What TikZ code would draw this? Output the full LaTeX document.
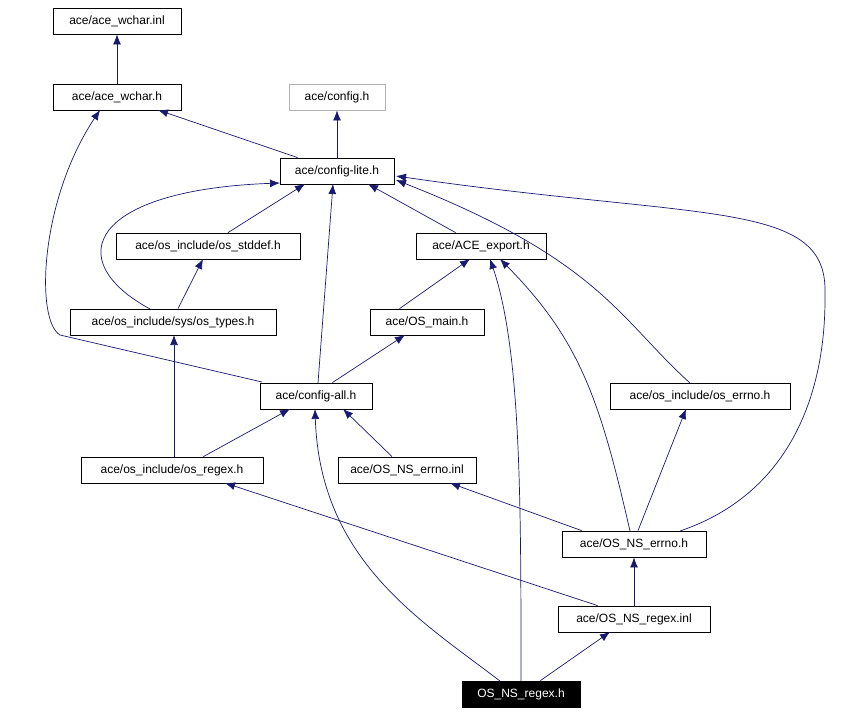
\documentclass[tikz,border=0pt]{standalone}
\usepackage{fontspec}
\setmainfont{Liberation Sans}
\usetikzlibrary{arrows.meta}
\definecolor{edge}{HTML}{191970}
\begin{document}
\begin{tikzpicture}[x=1pt,y=-1pt,
  box/.style={draw=black,fill=white,line width=0.8pt,minimum height=26pt,inner sep=0pt,font=\fontsize{12}{14}\selectfont},
  e/.style={draw=edge,line width=0.7pt,-{Latex[length=10pt,width=8pt]}}]
\useasboundingbox (0,0) rectangle (846,714);
\node[box,minimum width=128pt] (winl) at (117,21) {ace/ace\_wchar.inl};
\node[box,minimum width=128pt] (wh) at (117,97) {ace/ace\_wchar.h};
\node[box,draw=gray!60,minimum width=96pt] (cfg) at (337,97) {ace/config.h};
\node[box,minimum width=114pt] (cl) at (337,171) {ace/config-lite.h};
\node[box,minimum width=184pt] (std) at (208,246) {ace/os\_include/os\_stddef.h};
\node[box,minimum width=130pt] (exp) at (481,246) {ace/ACE\_export.h};
\node[box,minimum width=206pt] (typ) at (173,322) {ace/os\_include/sys/os\_types.h};
\node[box,minimum width=114pt] (main) at (427,322) {ace/OS\_main.h};
\node[box,minimum width=112pt] (all) at (316,396) {ace/config-all.h};
\node[box,minimum width=180pt] (err) at (700,396) {ace/os\_include/os\_errno.h};
\node[box,minimum width=182pt] (rgx) at (172,470) {ace/os\_include/os\_regex.h};
\node[box,minimum width=138pt] (einl) at (407,470) {ace/OS\_NS\_errno.inl};
\node[box,minimum width=144pt] (eh) at (634,544) {ace/OS\_NS\_errno.h};
\node[box,minimum width=152pt] (rinl) at (634,619) {ace/OS\_NS\_regex.inl};
\node[box,fill=black,text=white,minimum width=118pt] (rh) at (521,694) {OS\_NS\_regex.h};

\draw[e] (wh) -- (winl);
\draw[e] (cl.north west) ++(18,0) -- (158,110);
\draw[e] (cl) -- (cfg);
\draw[e] (std.north) ++(20,0) -- (305,184);
\draw[e] (exp.north west) ++(40,0) -- (368,184);
\draw[e] (150,309) .. controls (60,260) and (90,190) .. (280,183);
\draw[e] (typ.north) ++(5,0) -- (203,259);
\draw[e] (main.north west) ++(30,0) -- (470,259);
\draw[e] (318,383) -- (333,184);
\draw[e] (262,382) -- (60,335) .. controls (35,320) and (40,200) .. (100,110);
\draw[e] (all.north east) ++(-40,0) -- (405,335);
\draw[e] (690,383) .. controls (620,320) and (600,260) .. (396,180);
\draw[e] (rgx.north) ++(2,0) -- (174,335);
\draw[e] (rgx.north east) ++(-60,0) -- (290,409);
\draw[e] (einl.north) ++(-15,0) -- (343,409);
\draw[e] (eh.north west) ++(20,0) -- (450,483);
\draw[e] (eh.north) ++(4,0) -- (686,409);
\draw[e] (630,531) .. controls (600,400) and (580,340) .. (500,259);
\draw[e] (680,531) .. controls (830,480) and (825,320) .. (825,290) .. controls (825,200) and (700,220) .. (396,176);
\draw[e] (rinl) -- (eh);
\draw[e] (rinl.north west) ++(40,0) -- (225,483);
\draw[e] (rh.north east) ++(-40,0) -- (610,632);
\draw[e] (500,681) .. controls (420,620) and (320,560) .. (315,409);
\draw[e] (521,681) .. controls (521,500) and (521,350) .. (490,259);
\end{tikzpicture}
\end{document}
